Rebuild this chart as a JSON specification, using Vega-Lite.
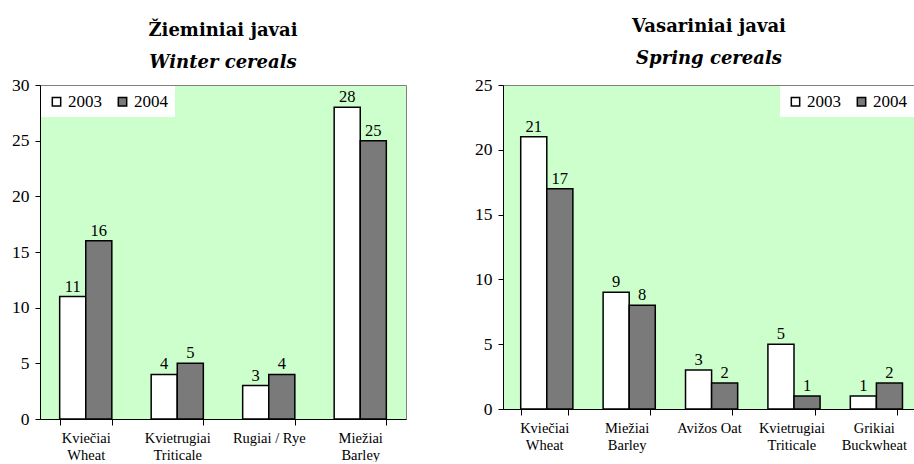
{
  "$schema": "https://vega.github.io/schema/vega-lite/v6.json",
  "background": "white",
  "padding": {"left": 11, "top": 17, "right": 0, "bottom": 0},
  "spacing": 67,
  "config": {
    "font": "Liberation Serif",
    "view": {"fill": "#ccffcc", "stroke": "#808080", "strokeWidth": 1},
    "axisY": {"domainColor": "black", "tickColor": "black", "labelFontSize": 17.5, "labelColor": "black", "tickSize": 5, "labelPadding": 6, "grid": false, "title": null, "labelFont": "Liberation Serif"},
    "axisX": {"domainColor": "black", "tickColor": "black", "labelFontSize": 14.5, "labelColor": "black", "tickSize": 6, "labelPadding": 6, "labelAngle": 0, "tickBand": "extent", "title": null, "labelExpr": "split(datum.label, '|')", "labelLineHeight": 17, "labelFont": "Liberation Serif"},
    "legend": {"direction": "horizontal", "fillColor": "white", "padding": 7, "offset": 1, "symbolType": "square", "symbolSize": 70, "symbolStrokeColor": "black", "symbolStrokeWidth": 1.5, "labelFontSize": 17, "labelColor": "black", "title": null, "columnPadding": 12, "labelOffset": 3, "labelFont": "Liberation Serif"},
    "text": {"font": "Liberation Serif"}
  },
  "resolve": {"scale": {"color": "independent"}, "legend": {"color": "independent"}},
  "hconcat": [
    {
      "title": {"text": "Žieminiai javai", "subtitle": "Winter cereals", "fontSize": 18, "subtitleFontSize": 18, "fontWeight": "bold", "subtitleFontWeight": "bold", "subtitleFontStyle": "italic", "subtitlePadding": 14, "offset": 4, "font": "DejaVu Serif", "subtitleFont": "DejaVu Serif", "color": "black", "subtitleColor": "black", "anchor": "middle"},
      "width": 366,
      "height": 334,
      "data": {"values": [
        {"crop": "Kviečiai|Wheat", "year": "2003", "value": 11},
        {"crop": "Kviečiai|Wheat", "year": "2004", "value": 16},
        {"crop": "Kvietrugiai|Triticale", "year": "2003", "value": 4},
        {"crop": "Kvietrugiai|Triticale", "year": "2004", "value": 5},
        {"crop": "Rugiai / Rye", "year": "2003", "value": 3},
        {"crop": "Rugiai / Rye", "year": "2004", "value": 4},
        {"crop": "Miežiai|Barley", "year": "2003", "value": 28},
        {"crop": "Miežiai|Barley", "year": "2004", "value": 25}
      ]},
      "encoding": {
        "x": {"field": "crop", "type": "nominal", "sort": null, "scale": {"paddingInner": 0.43, "paddingOuter": 0.215}},
        "xOffset": {"field": "year", "type": "nominal"},
        "y": {"field": "value", "type": "quantitative", "scale": {"domain": [0, 30]}, "axis": {"values": [0, 5, 10, 15, 20, 25, 30]}}
      },
      "layer": [
        {
          "mark": {"type": "bar", "stroke": "black", "strokeWidth": 1.5},
          "encoding": {"color": {"field": "year", "type": "nominal", "scale": {"domain": ["2003", "2004"], "range": ["white", "#7a7a7a"]}, "legend": {"orient": "top-left"}}}
        },
        {
          "mark": {"type": "text", "dy": -10, "fontSize": 16.5, "color": "black"},
          "encoding": {"text": {"field": "value", "type": "quantitative"}}
        }
      ]
    },
    {
      "title": {"text": "Vasariniai javai", "subtitle": "Spring cereals", "fontSize": 18, "subtitleFontSize": 18, "fontWeight": "bold", "subtitleFontWeight": "bold", "subtitleFontStyle": "italic", "subtitlePadding": 14, "offset": 8, "font": "DejaVu Serif", "subtitleFont": "DejaVu Serif", "color": "black", "subtitleColor": "black", "anchor": "middle"},
      "width": 412,
      "height": 324,
      "data": {"values": [
        {"crop": "Kviečiai|Wheat", "year": "2003", "value": 21},
        {"crop": "Kviečiai|Wheat", "year": "2004", "value": 17},
        {"crop": "Miežiai|Barley", "year": "2003", "value": 9},
        {"crop": "Miežiai|Barley", "year": "2004", "value": 8},
        {"crop": "Avižos  Oat", "year": "2003", "value": 3},
        {"crop": "Avižos  Oat", "year": "2004", "value": 2},
        {"crop": "Kvietrugiai|Triticale", "year": "2003", "value": 5},
        {"crop": "Kvietrugiai|Triticale", "year": "2004", "value": 1},
        {"crop": "Grikiai|Buckwheat", "year": "2003", "value": 1},
        {"crop": "Grikiai|Buckwheat", "year": "2004", "value": 2}
      ]},
      "encoding": {
        "x": {"field": "crop", "type": "nominal", "sort": null, "scale": {"paddingInner": 0.43, "paddingOuter": 0.215}},
        "xOffset": {"field": "year", "type": "nominal"},
        "y": {"field": "value", "type": "quantitative", "scale": {"domain": [0, 25]}, "axis": {"values": [0, 5, 10, 15, 20, 25]}}
      },
      "layer": [
        {
          "mark": {"type": "bar", "stroke": "black", "strokeWidth": 1.5},
          "encoding": {"color": {"field": "year", "type": "nominal", "scale": {"domain": ["2003", "2004"], "range": ["white", "#7a7a7a"]}, "legend": {"orient": "top-right"}}}
        },
        {
          "mark": {"type": "text", "dy": -10, "fontSize": 16.5, "color": "black"},
          "encoding": {"text": {"field": "value", "type": "quantitative"}}
        }
      ]
    }
  ]
}
